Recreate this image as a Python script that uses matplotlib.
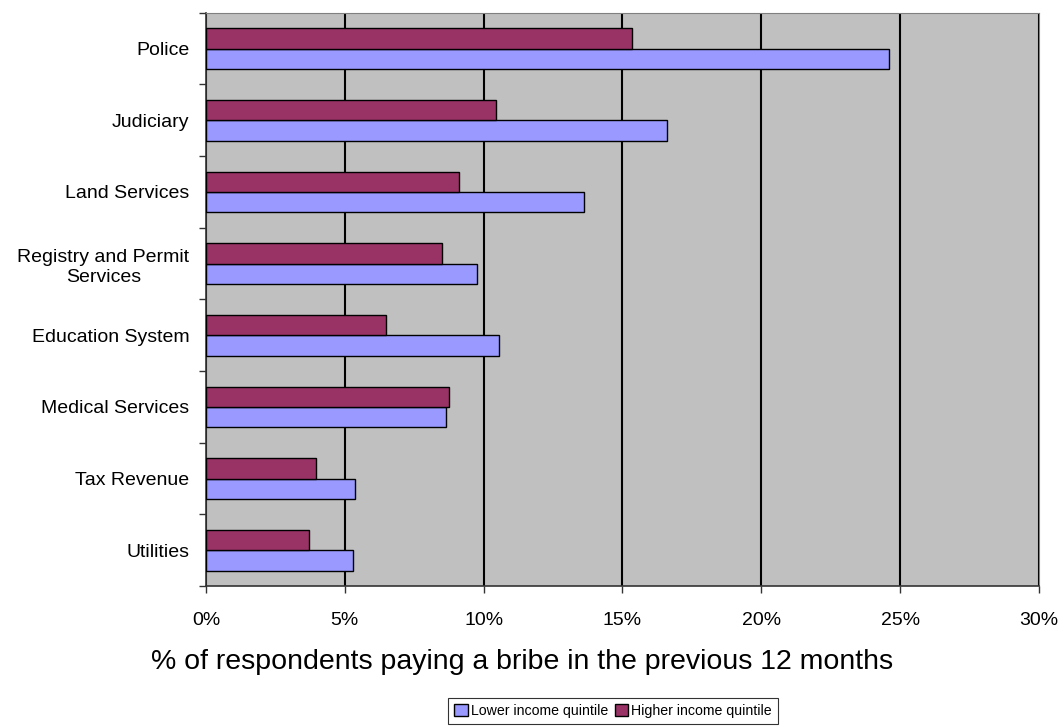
import numpy as np
import matplotlib.pyplot as plt
from matplotlib.ticker import FixedLocator, PercentFormatter

categories = ['Police', 'Judiciary', 'Land Services', 'Registry and Permit\nServices',
              'Education System', 'Medical Services', 'Tax Revenue', 'Utilities']
lower_income = [24.6, 16.6, 13.6, 9.75, 10.55, 8.65, 5.35, 5.3]
higher_income = [15.35, 10.45, 9.1, 8.5, 6.5, 8.75, 3.95, 3.7]

plt.rcParams['font.family'] = ['Liberation Sans', 'DejaVu Sans']

fig = plt.figure(figsize=(10.63, 7.26), dpi=100)
ax = fig.add_axes([0.1938, 0.1928, 0.9774 - 0.1938, 0.9825 - 0.1928])
ax.set_facecolor('#C0C0C0')

y = np.arange(len(categories))
h = 0.284
ax.barh(y + h / 2, lower_income, height=h, color='#9999FF', edgecolor='black',
        linewidth=1.0, label='Lower income quintile', zorder=3)
ax.barh(y - h / 2, higher_income, height=h, color='#993366', edgecolor='black',
        linewidth=1.0, label='Higher income quintile', zorder=3)

ax.set_xlim(0, 30)
ax.set_ylim(len(categories) - 0.5, -0.5)
ax.set_xticks(np.arange(0, 31, 5))
ax.xaxis.set_major_formatter(PercentFormatter(decimals=0))
ax.grid(axis='x', color='black', linewidth=1.5, zorder=1)
ax.set_axisbelow(True)

# category ticks sit between groups, labels in the middle
ax.yaxis.set_major_locator(FixedLocator(np.arange(-0.5, len(categories), 1)))
ax.yaxis.set_minor_locator(FixedLocator(y))
ax.set_yticklabels([], minor=False)
ax.set_yticklabels(categories, minor=True, fontsize=14)
ax.tick_params(axis='y', which='minor', length=0, pad=12)
ax.tick_params(axis='y', which='major', length=5, width=1, color='#333333')
ax.tick_params(axis='x', length=5, width=1, labelsize=14, pad=14, color='#333333')
for lab in ax.get_yticklabels(minor=True):
    lab.set_multialignment('center')
    lab.set_linespacing(1.25)

for s in ['top', 'right']:
    ax.spines[s].set_color('#808080')
for s in ['left', 'bottom']:
    ax.spines[s].set_color('#333333')
    ax.spines[s].set_linewidth(1.2)

ax.set_xlabel('% of respondents paying a bribe in the previous 12 months',
              fontsize=20.5)
ax.xaxis.set_label_coords(0.38, -0.11)

leg = fig.legend(loc='center', bbox_to_anchor=(0.5767, 0.0207), ncol=2,
                 frameon=True, fancybox=False, edgecolor='black',
                 prop={'size': 10.2},
                 handlelength=0.95, handleheight=0.95, handletextpad=0.2,
                 columnspacing=0.5, borderpad=0.45, borderaxespad=0)
leg.get_frame().set_linewidth(0.8)

fig.savefig('out.png', dpi=100)
